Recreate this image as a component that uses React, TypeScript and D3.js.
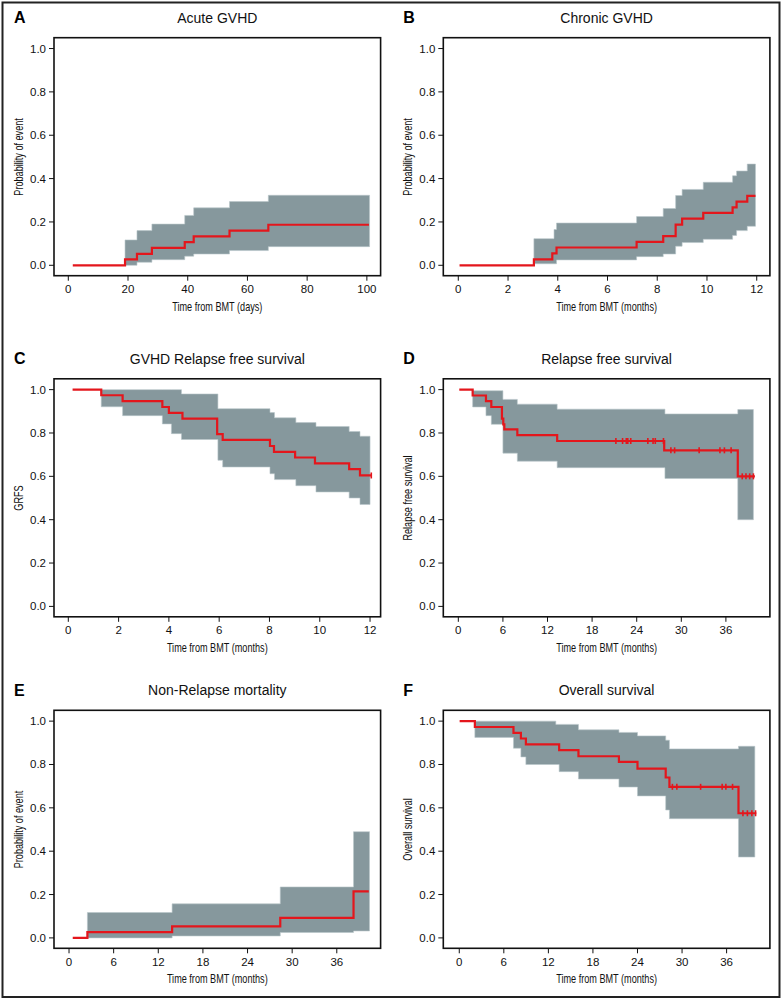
import React from 'react';
import * as d3 from 'd3';

// ---------- tick labels ----------
const Y_TICKS = [0, 0.2, 0.4, 0.6, 0.8, 1.0];
const DAY_TICKS = [0, 20, 40, 60, 80, 100];
const M12_TICKS = [0, 2, 4, 6, 8, 10, 12];
const M36_TICKS = [0, 6, 12, 18, 24, 30, 36];

// ---------- A: Acute GVHD ----------
const aTime = [1.5, 19, 23, 28, 39, 42, 54, 67, 100.7];
const aEst = [0, 0.027, 0.053, 0.08, 0.107, 0.133, 0.16, 0.187, 0.187];
const aCiTime = [19, 23, 28, 39, 42, 54, 67, 100.9];
const aCiUpper = [0.117, 0.16, 0.19, 0.23, 0.265, 0.294, 0.323, 0.323];
const aCiLower = [0.0, 0.014, 0.026, 0.042, 0.052, 0.068, 0.086, 0.086];
const aCensor: number[] = [];

// ---------- B: Chronic GVHD ----------
const bTime = [0.05, 3.04, 3.78, 3.95, 7.17, 8.24, 8.74, 9.0, 9.85, 11.03, 11.19, 11.62, 11.95];
const bEst = [0, 0.027, 0.055, 0.082, 0.108, 0.135, 0.188, 0.215, 0.242, 0.267, 0.294, 0.32, 0.32];
const bCiTime = [3.04, 3.85, 3.95, 7.17, 8.24, 8.74, 9.0, 9.85, 11.03, 11.19, 11.62, 11.95];
const bCiUpper = [0.123, 0.165, 0.195, 0.225, 0.262, 0.322, 0.35, 0.383, 0.413, 0.435, 0.467, 0.467];
const bCiLower = [0.007, 0.007, 0.025, 0.04, 0.052, 0.088, 0.105, 0.12, 0.138, 0.16, 0.18, 0.18];
const bCensor: number[] = [];

// ---------- C: GVHD Relapse free survival ----------
const cTime = [0.17, 1.31, 2.16, 3.74, 4.0, 4.54, 5.92, 6.14, 8.02, 8.18, 9.02, 9.81, 11.17, 11.6, 12.05];
const cEst = [1, 0.974, 0.947, 0.92, 0.893, 0.866, 0.795, 0.768, 0.74, 0.713, 0.687, 0.66, 0.633, 0.604, 0.604];
const cCiTime = [1.31, 2.16, 3.74, 4.1, 4.5, 5.95, 6.14, 8.02, 8.2, 9.05, 9.85, 11.17, 11.6, 12.0];
const cCiUpper = [1, 1, 1, 1, 0.98, 0.912, 0.912, 0.894, 0.87, 0.848, 0.83, 0.807, 0.785, 0.785];
const cCiLower = [0.921, 0.88, 0.842, 0.797, 0.77, 0.674, 0.643, 0.612, 0.585, 0.557, 0.528, 0.5, 0.47, 0.47];
const cCensor = [12.05];

// ---------- D: Relapse free survival ----------
const dTime = [0.13, 1.93, 3.72, 4.44, 5.87, 6.05, 6.19, 7.94, 13.3, 27.7, 37.6, 39.9];
const dEst = [1, 0.973, 0.947, 0.92, 0.866, 0.84, 0.817, 0.79, 0.763, 0.72, 0.6, 0.6];
const dCiTime = [1.93, 3.72, 4.44, 6.0, 7.94, 13.3, 27.8, 37.6, 39.7];
const dCiUpper = [0.995, 0.995, 0.995, 0.955, 0.933, 0.91, 0.888, 0.908, 0.908];
const dCiLower = [0.92, 0.88, 0.84, 0.707, 0.67, 0.64, 0.59, 0.4, 0.4];
const dCensor = [21.2, 22.1, 22.6, 22.8, 23.2, 25.5, 26.2, 26.5, 27.6, 28.6, 29.1, 32.4, 35.2, 35.8, 36.7, 38.2, 38.7, 39.2, 39.7];

// ---------- E: Non-Relapse mortality ----------
const eTime = [0.5, 2.47, 13.86, 28.4, 38.25, 40.3];
const eEst = [0, 0.027, 0.053, 0.092, 0.215, 0.215];
const eCiTime = [2.47, 13.86, 28.4, 38.25, 40.4];
const eCiUpper = [0.117, 0.157, 0.235, 0.49, 0.49];
const eCiLower = [0.0, 0.009, 0.025, 0.032, 0.032];
const eCensor: number[] = [];

// ---------- F: Overall survival ----------
const fTime = [0.05, 2.1, 7.3, 8.3, 8.97, 13.45, 16.05, 21.5, 24.0, 27.8, 28.3, 37.6, 40.0];
const fEst = [1, 0.973, 0.946, 0.92, 0.893, 0.866, 0.838, 0.812, 0.781, 0.74, 0.697, 0.575, 0.575];
const fCiTime = [2.1, 7.3, 8.3, 8.97, 13.0, 13.45, 16.05, 21.5, 24.0, 27.8, 28.3, 37.6, 39.8];
const fCiUpper = [1, 1, 1, 1, 0.985, 0.985, 0.96, 0.948, 0.932, 0.912, 0.872, 0.884, 0.884];
const fCiLower = [0.925, 0.875, 0.835, 0.8, 0.8, 0.767, 0.733, 0.696, 0.655, 0.59, 0.55, 0.373, 0.373];
const fCensor = [28.7, 29.3, 32.5, 35.4, 35.9, 36.8, 38.2, 38.8, 39.4, 39.9];

// ---------- panels ----------
type PanelDef = {
  letter: string; title: string; yLabel: string; xLabel: string;
  xDomain: [number, number]; xTicks: number[];
  time: number[]; est: number[];
  ciTime: number[]; ciUpper: number[]; ciLower: number[];
  censor: number[]; col: number; row: number;
};

const panels: PanelDef[] = [
  { letter: 'A', title: 'Acute GVHD', yLabel: 'Probability of event', xLabel: 'Time from BMT (days)',
    xDomain: [-4.79, 104.6], xTicks: DAY_TICKS, time: aTime, est: aEst,
    ciTime: aCiTime, ciUpper: aCiUpper, ciLower: aCiLower, censor: aCensor, col: 0, row: 0 },
  { letter: 'B', title: 'Chronic GVHD', yLabel: 'Probability of event', xLabel: 'Time from BMT (months)',
    xDomain: [-0.603, 12.53], xTicks: M12_TICKS, time: bTime, est: bEst,
    ciTime: bCiTime, ciUpper: bCiUpper, ciLower: bCiLower, censor: bCensor, col: 1, row: 0 },
  { letter: 'C', title: 'GVHD Relapse free survival', yLabel: 'GRFS', xLabel: 'Time from BMT (months)',
    xDomain: [-0.569, 12.42], xTicks: M12_TICKS, time: cTime, est: cEst,
    ciTime: cCiTime, ciUpper: cCiUpper, ciLower: cCiLower, censor: cCensor, col: 0, row: 1 },
  { letter: 'D', title: 'Relapse free survival', yLabel: 'Relapse free survival', xLabel: 'Time from BMT (months)',
    xDomain: [-2.02, 41.92], xTicks: M36_TICKS, time: dTime, est: dEst,
    ciTime: dCiTime, ciUpper: dCiUpper, ciLower: dCiLower, censor: dCensor, col: 1, row: 1 },
  { letter: 'E', title: 'Non-Relapse mortality', yLabel: 'Probability of event', xLabel: 'Time from BMT (months)',
    xDomain: [-2.02, 41.89], xTicks: M36_TICKS, time: eTime, est: eEst,
    ciTime: eCiTime, ciUpper: eCiUpper, ciLower: eCiLower, censor: eCensor, col: 0, row: 2 },
  { letter: 'F', title: 'Overall survival', yLabel: 'Overall survival', xLabel: 'Time from BMT (months)',
    xDomain: [-2.15, 41.83], xTicks: M36_TICKS, time: fTime, est: fEst,
    ciTime: fCiTime, ciUpper: fCiUpper, ciLower: fCiLower, censor: fCensor, col: 1, row: 2 },
];

const COL_LEFT = [54, 443.3];
const BOX_W = 326.6;
const ROW_TOP = [37.7, 378.8, 710.3];
const BOX_H = 238;

const FONT = '"Liberation Sans", Arial, Helvetica, sans-serif';
const RED = '#e4161c';
const BAND = '#86989d';

function stepValueAt(times: number[], vals: number[], t: number) {
  let v = vals[0];
  for (let i = 0; i < times.length; i++) if (times[i] <= t) v = vals[i];
  return v;
}

function Panel({ p }: { p: PanelDef }) {
  const L = COL_LEFT[p.col];
  const T = ROW_TOP[p.row];
  const R = L + BOX_W;
  const B = T + BOX_H;
  const x = d3.scaleLinear().domain(p.xDomain).range([L, R]);
  const y = d3.scaleLinear().domain([-0.048, 1.05]).range([B, T]);

  const lineGen = d3.line<number>()
    .x((_, i) => x(p.time[i]))
    .y((d) => y(d))
    .curve(d3.curveStepAfter);
  const areaGen = d3.area<number>()
    .x((_, i) => x(p.ciTime[i]))
    .y0((_, i) => y(p.ciLower[i]))
    .y1((d) => y(d))
    .curve(d3.curveStepAfter);

  const fmt = d3.format('.1f');
  const cx = (L + R) / 2;

  return (
    <g>
      <text x={L - 40} y={T - 20} dominantBaseline="central" fontFamily={FONT} fontWeight="bold"
        fontSize={16} fill="#000">{p.letter}</text>
      <text x={cx} y={T - 20} dominantBaseline="central" textAnchor="middle" fontFamily={FONT}
        fontSize={14} fill="#111">{p.title}</text>

      <path d={areaGen(p.ciUpper) || ''} fill={BAND} stroke="#b9c6ca" strokeWidth={0.6} />
      <path d={lineGen(p.est) || ''} fill="none" stroke={RED} strokeWidth={2.2} />
      {p.censor.map((c, i) => {
        const yy = y(stepValueAt(p.time, p.est, c));
        return <line key={i} x1={x(c)} x2={x(c)} y1={yy - 3} y2={yy + 3} stroke={RED} strokeWidth={1.6} />;
      })}

      <rect x={L} y={T} width={BOX_W} height={BOX_H} fill="none" stroke="#111" strokeWidth={1.6} />

      {Y_TICKS.map((v) => (
        <g key={'y' + v}>
          <line x1={L - 5} x2={L} y1={y(v)} y2={y(v)} stroke="#111" strokeWidth={1} />
          <text x={L - 8} y={y(v)} dominantBaseline="central" textAnchor="end" fontFamily={FONT}
            fontSize={11.5} fill="#111">{fmt(v)}</text>
        </g>
      ))}
      {p.xTicks.map((v) => (
        <g key={'x' + v}>
          <line x1={x(v)} x2={x(v)} y1={B} y2={B + 5} stroke="#111" strokeWidth={1} />
          <text x={x(v)} y={B + 13.5} dominantBaseline="central" textAnchor="middle" fontFamily={FONT}
            fontSize={11.5} fill="#111">{v}</text>
        </g>
      ))}

      <text transform={`translate(${cx},${B + 30.5}) scale(0.73,1)`} dominantBaseline="central"
        textAnchor="middle" fontFamily={FONT} fontSize={12.5} fill="#111">{p.xLabel}</text>
      <text transform={`translate(${L - 36},${(y(0) + y(1)) / 2}) rotate(-90) scale(0.73,1)`}
        dominantBaseline="central" textAnchor="middle" fontFamily={FONT} fontSize={12.5}
        fill="#111">{p.yLabel}</text>
    </g>
  );
}

export default function App() {
  return (
    <svg width={783} height={1000} viewBox="0 0 783 1000"
      style={{ position: 'absolute', left: 0, top: 0, background: '#fff' }}>
      <rect x={0} y={0} width={783} height={1000} fill="#fff" />
      <rect x={2.5} y={2.5} width={777} height={994.5} fill="none" stroke="#222" strokeWidth={2} />
      {panels.map((p) => <Panel key={p.letter} p={p} />)}
    </svg>
  );
}
